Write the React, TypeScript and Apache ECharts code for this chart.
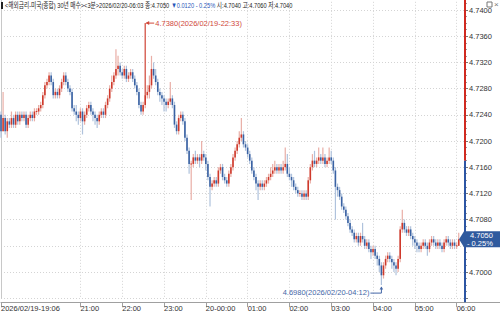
import React, { useEffect, useRef } from "react";
import * as echarts from "echarts";

// ---- data (3-minute bars, 2026/02/19 19:06 -> 2026/02/20 06:03) ----
const opens = [
  4.7240, 4.7215, 4.7235, 4.7215, 4.7230, 4.7225, 4.7235, 4.7225, 4.7240, 4.7230,
  4.7240, 4.7235, 4.7240, 4.7225, 4.7235, 4.7240, 4.7235, 4.7245, 4.7245, 4.7250,
  4.7255, 4.7270, 4.7285, 4.7290, 4.7300, 4.7290, 4.7270, 4.7275, 4.7270, 4.7280,
  4.7290, 4.7300, 4.7290, 4.7280, 4.7275, 4.7250, 4.7245, 4.7240, 4.7235, 4.7245,
  4.7230, 4.7240, 4.7250, 4.7255, 4.7245, 4.7240, 4.7235, 4.7230, 4.7240, 4.7245,
  4.7240, 4.7255, 4.7265, 4.7280, 4.7290, 4.7300, 4.7310, 4.7315, 4.7305, 4.7300,
  4.7310, 4.7295, 4.7300, 4.7305, 4.7295, 4.7285, 4.7275, 4.7255, 4.7245, 4.7255,
  4.7270, 4.7275, 4.7285, 4.7310, 4.7300, 4.7290, 4.7275, 4.7270, 4.7265, 4.7260,
  4.7255, 4.7260, 4.7265, 4.7255, 4.7225, 4.7215, 4.7235, 4.7240, 4.7230, 4.7205,
  4.7185, 4.7165, 4.7165, 4.7175, 4.7170, 4.7175, 4.7170, 4.7180, 4.7175, 4.7165,
  4.7145, 4.7130, 4.7135, 4.7140, 4.7135, 4.7155, 4.7160, 4.7145, 4.7140, 4.7135,
  4.7150, 4.7160, 4.7175, 4.7185, 4.7195, 4.7205, 4.7210, 4.7195, 4.7190, 4.7180,
  4.7170, 4.7155, 4.7145, 4.7135, 4.7130, 4.7135, 4.7130, 4.7135, 4.7140, 4.7145,
  4.7150, 4.7155, 4.7160, 4.7155, 4.7160, 4.7155, 4.7160, 4.7165, 4.7150, 4.7145,
  4.7140, 4.7130, 4.7125, 4.7120, 4.7120, 4.7115, 4.7120, 4.7115, 4.7140, 4.7160,
  4.7170, 4.7165, 4.7170, 4.7175, 4.7170, 4.7175, 4.7165, 4.7170, 4.7175, 4.7170,
  4.7155, 4.7130, 4.7125, 4.7115, 4.7100, 4.7095, 4.7085, 4.7075, 4.7065, 4.7060,
  4.7050, 4.7055, 4.7045, 4.7055, 4.7050, 4.7040, 4.7045, 4.7035, 4.7030, 4.7035,
  4.7025, 4.7020, 4.7010, 4.6995, 4.7010, 4.7020, 4.7025, 4.7020, 4.7015, 4.7010,
  4.7005, 4.7020, 4.7065, 4.7075, 4.7065, 4.7060, 4.7065, 4.7055, 4.7050, 4.7045,
  4.7040, 4.7035, 4.7040, 4.7045, 4.7040, 4.7035, 4.7045, 4.7050, 4.7045, 4.7040,
  4.7045, 4.7040, 4.7035, 4.7045, 4.7050, 4.7045, 4.7040, 4.7045, 4.7040, 4.7040,
];
const highs = [
  4.7245, 4.7275, 4.7240, 4.7235, 4.7235, 4.7245, 4.7240, 4.7245, 4.7245, 4.7245,
  4.7245, 4.7245, 4.7245, 4.7240, 4.7245, 4.7245, 4.7250, 4.7250, 4.7255, 4.7260,
  4.7275, 4.7290, 4.7295, 4.7305, 4.7305, 4.7295, 4.7280, 4.7280, 4.7285, 4.7295,
  4.7305, 4.7305, 4.7295, 4.7285, 4.7280, 4.7255, 4.7255, 4.7245, 4.7250, 4.7250,
  4.7245, 4.7255, 4.7260, 4.7260, 4.7250, 4.7245, 4.7240, 4.7245, 4.7250, 4.7250,
  4.7260, 4.7270, 4.7285, 4.7300, 4.7305, 4.7340, 4.7330, 4.7320, 4.7310, 4.7315,
  4.7315, 4.7305, 4.7310, 4.7310, 4.7300, 4.7290, 4.7280, 4.7260, 4.7260, 4.7380,
  4.7285, 4.7300, 4.7330, 4.7320, 4.7310, 4.7295, 4.7280, 4.7275, 4.7270, 4.7265,
  4.7265, 4.7290, 4.7270, 4.7260, 4.7230, 4.7240, 4.7245, 4.7245, 4.7235, 4.7210,
  4.7190, 4.7170, 4.7180, 4.7185, 4.7180, 4.7180, 4.7200, 4.7185, 4.7180, 4.7170,
  4.7150, 4.7140, 4.7145, 4.7145, 4.7160, 4.7165, 4.7165, 4.7150, 4.7145, 4.7155,
  4.7165, 4.7180, 4.7190, 4.7200, 4.7215, 4.7235, 4.7215, 4.7200, 4.7195, 4.7185,
  4.7175, 4.7160, 4.7150, 4.7140, 4.7140, 4.7140, 4.7140, 4.7145, 4.7150, 4.7160,
  4.7165, 4.7170, 4.7165, 4.7165, 4.7165, 4.7170, 4.7190, 4.7180, 4.7160, 4.7150,
  4.7145, 4.7135, 4.7130, 4.7125, 4.7125, 4.7125, 4.7125, 4.7145, 4.7165, 4.7180,
  4.7185, 4.7175, 4.7190, 4.7180, 4.7190, 4.7180, 4.7175, 4.7190, 4.7185, 4.7175,
  4.7160, 4.7135, 4.7130, 4.7120, 4.7105, 4.7100, 4.7090, 4.7080, 4.7070, 4.7065,
  4.7060, 4.7060, 4.7060, 4.7075, 4.7055, 4.7050, 4.7050, 4.7040, 4.7040, 4.7040,
  4.7030, 4.7025, 4.7015, 4.7015, 4.7025, 4.7030, 4.7030, 4.7025, 4.7020, 4.7015,
  4.7025, 4.7070, 4.7095, 4.7080, 4.7070, 4.7070, 4.7070, 4.7060, 4.7055, 4.7050,
  4.7045, 4.7045, 4.7050, 4.7050, 4.7045, 4.7050, 4.7055, 4.7055, 4.7050, 4.7050,
  4.7050, 4.7045, 4.7050, 4.7055, 4.7055, 4.7050, 4.7050, 4.7050, 4.7045, 4.7060,
];
const lows = [
  4.7205, 4.7215, 4.7210, 4.7205, 4.7220, 4.7220, 4.7220, 4.7220, 4.7225, 4.7225,
  4.7230, 4.7230, 4.7220, 4.7220, 4.7230, 4.7230, 4.7230, 4.7240, 4.7240, 4.7245,
  4.7250, 4.7265, 4.7280, 4.7285, 4.7285, 4.7265, 4.7265, 4.7265, 4.7265, 4.7275,
  4.7285, 4.7285, 4.7275, 4.7270, 4.7245, 4.7240, 4.7230, 4.7225, 4.7230, 4.7210,
  4.7225, 4.7235, 4.7245, 4.7240, 4.7230, 4.7225, 4.7220, 4.7225, 4.7235, 4.7235,
  4.7235, 4.7250, 4.7260, 4.7275, 4.7285, 4.7295, 4.7300, 4.7300, 4.7295, 4.7295,
  4.7290, 4.7290, 4.7295, 4.7290, 4.7280, 4.7270, 4.7250, 4.7240, 4.7240, 4.7250,
  4.7265, 4.7265, 4.7280, 4.7295, 4.7285, 4.7270, 4.7260, 4.7255, 4.7245, 4.7245,
  4.7250, 4.7255, 4.7250, 4.7220, 4.7210, 4.7210, 4.7230, 4.7225, 4.7200, 4.7180,
  4.7150, 4.7110, 4.7160, 4.7165, 4.7165, 4.7160, 4.7165, 4.7170, 4.7155, 4.7140,
  4.7100, 4.7125, 4.7130, 4.7130, 4.7130, 4.7150, 4.7140, 4.7135, 4.7130, 4.7130,
  4.7145, 4.7155, 4.7170, 4.7180, 4.7190, 4.7200, 4.7190, 4.7185, 4.7175, 4.7165,
  4.7150, 4.7140, 4.7125, 4.7110, 4.7125, 4.7125, 4.7125, 4.7130, 4.7135, 4.7140,
  4.7145, 4.7150, 4.7150, 4.7150, 4.7150, 4.7150, 4.7155, 4.7145, 4.7140, 4.7130,
  4.7125, 4.7120, 4.7115, 4.7115, 4.7110, 4.7110, 4.7110, 4.7110, 4.7135, 4.7155,
  4.7160, 4.7160, 4.7165, 4.7165, 4.7165, 4.7160, 4.7160, 4.7165, 4.7165, 4.7150,
  4.7080, 4.7115, 4.7110, 4.7095, 4.7090, 4.7080, 4.7070, 4.7060, 4.7055, 4.7045,
  4.7045, 4.7040, 4.7040, 4.7045, 4.7035, 4.7035, 4.7030, 4.7020, 4.7025, 4.7020,
  4.7010, 4.7000, 4.6980, 4.6990, 4.7005, 4.7015, 4.7015, 4.7005, 4.7000, 4.6995,
  4.7000, 4.7015, 4.7060, 4.7060, 4.7055, 4.7055, 4.7050, 4.7040, 4.7035, 4.7030,
  4.7030, 4.7030, 4.7035, 4.7035, 4.7025, 4.7030, 4.7040, 4.7040, 4.7035, 4.7035,
  4.7035, 4.7030, 4.7030, 4.7040, 4.7040, 4.7035, 4.7035, 4.7035, 4.7035, 4.7040,
];
const closes = [
  4.7215, 4.7235, 4.7215, 4.7230, 4.7225, 4.7235, 4.7225, 4.7240, 4.7230, 4.7240,
  4.7235, 4.7240, 4.7225, 4.7235, 4.7240, 4.7235, 4.7245, 4.7245, 4.7250, 4.7255,
  4.7270, 4.7285, 4.7290, 4.7300, 4.7290, 4.7270, 4.7275, 4.7270, 4.7280, 4.7290,
  4.7300, 4.7290, 4.7280, 4.7275, 4.7250, 4.7245, 4.7240, 4.7235, 4.7245, 4.7230,
  4.7240, 4.7250, 4.7255, 4.7245, 4.7240, 4.7235, 4.7230, 4.7240, 4.7245, 4.7240,
  4.7255, 4.7265, 4.7280, 4.7290, 4.7300, 4.7310, 4.7315, 4.7305, 4.7300, 4.7310,
  4.7295, 4.7300, 4.7305, 4.7295, 4.7285, 4.7275, 4.7255, 4.7245, 4.7255, 4.7270,
  4.7275, 4.7285, 4.7310, 4.7300, 4.7290, 4.7275, 4.7270, 4.7265, 4.7260, 4.7255,
  4.7260, 4.7265, 4.7255, 4.7225, 4.7215, 4.7235, 4.7240, 4.7230, 4.7205, 4.7185,
  4.7165, 4.7165, 4.7175, 4.7170, 4.7175, 4.7170, 4.7180, 4.7175, 4.7165, 4.7145,
  4.7130, 4.7135, 4.7140, 4.7135, 4.7155, 4.7160, 4.7145, 4.7140, 4.7135, 4.7150,
  4.7160, 4.7175, 4.7185, 4.7195, 4.7205, 4.7210, 4.7195, 4.7190, 4.7180, 4.7170,
  4.7155, 4.7145, 4.7135, 4.7130, 4.7135, 4.7130, 4.7135, 4.7140, 4.7145, 4.7150,
  4.7155, 4.7160, 4.7155, 4.7160, 4.7155, 4.7160, 4.7165, 4.7150, 4.7145, 4.7140,
  4.7130, 4.7125, 4.7120, 4.7120, 4.7115, 4.7120, 4.7115, 4.7140, 4.7160, 4.7170,
  4.7165, 4.7170, 4.7175, 4.7170, 4.7175, 4.7165, 4.7170, 4.7175, 4.7170, 4.7155,
  4.7130, 4.7125, 4.7115, 4.7100, 4.7095, 4.7085, 4.7075, 4.7065, 4.7060, 4.7050,
  4.7055, 4.7045, 4.7055, 4.7050, 4.7040, 4.7045, 4.7035, 4.7030, 4.7035, 4.7025,
  4.7020, 4.7010, 4.6995, 4.7010, 4.7020, 4.7025, 4.7020, 4.7015, 4.7010, 4.7005,
  4.7020, 4.7065, 4.7075, 4.7065, 4.7060, 4.7065, 4.7055, 4.7050, 4.7045, 4.7040,
  4.7035, 4.7040, 4.7045, 4.7040, 4.7035, 4.7045, 4.7050, 4.7045, 4.7040, 4.7045,
  4.7040, 4.7035, 4.7045, 4.7050, 4.7045, 4.7040, 4.7045, 4.7040, 4.7040, 4.7050,
];
const prevClose = 4.7170;
const changeText = "- 0.25%";
const tickIndex = [0, 38, 58, 78, 98, 118, 138, 158, 178, 198, 218];
const tickLabels = [
  "2026/02/19-19:06", "21:00", "22:00", "23:00", "20-00:00", "01:00",
  "02:00", "03:00", "04:00", "05:00", "06:00",
];
const titleMain = "<해외금리-미국(종합) 30년 매수><3분>2026/02/20-06:03 종:4.7050 ";
const titleChange = "▼0.0120 - 0.25%";
const titleRest = " 시:4.7040 고:4.7060 저:4.7040";
const yMin = 4.696;
const yMax = 4.744;
const yStep = 0.004;
const startDay = 19;
const startMinutes = 19 * 60 + 6;
const barMinutes = 3;
const padBars = 3;

const RED = "#cf3a2c";
const RED_LIGHT = "#e9aea6";
const BLUE = "#3a62a3";
const BLUE_LIGHT = "#afc2dc";
const RED_ANN = "#d0483a";
const BLUE_ANN = "#4466a6";
const AXIS_RED = "#d02a20";
const AXIS_BLUE = "#2c55a3";
const TAG_BLUE = "#2f5a9e";
const FONT = "'Liberation Sans', Arial, sans-serif";
const CJK = "'Liberation Sans', 'Noto Sans CJK KR', sans-serif";

const pad2 = (n: number) => (n < 10 ? "0" + n : String(n));
const stamps: string[] = [];
for (let i = 0; i < closes.length + padBars; i++) {
  const m = startMinutes + i * barMinutes;
  const day = startDay + Math.floor(m / 1440);
  const mm = m % 1440;
  stamps.push(`2026/02/${pad2(day)}-${pad2(Math.floor(mm / 60))}:${pad2(mm % 60)}`);
}

export default function App() {
  const ref = useRef<HTMLDivElement>(null);
  useEffect(() => {
    document.body.style.margin = "0";
    if (!ref.current) return;
    const chart = echarts.init(ref.current, null, { renderer: "svg" });

    const dirs = closes.map((c, i) => {
      const o = opens[i];
      if (c > o) return 1;
      if (c < o) return -1;
      const p = i > 0 ? closes[i - 1] : o;
      return c >= p ? 1 : -1;
    });
    let maxIdx = 0;
    let minIdx = 0;
    highs.forEach((h, i) => { if (h > highs[maxIdx]) maxIdx = i; });
    lows.forEach((l, i) => { if (l < lows[minIdx]) minIdx = i; });
    const lastIdx = closes.length - 1;
    const lastClose = closes[lastIdx];

    const barData = closes.map((c, i) => [i, opens[i], c, lows[i], highs[i], dirs[i]]);

    const option: any = {
      animation: false,
      backgroundColor: "#ffffff",
      grid: {
        left: 1, right: 35, top: -16.2, bottom: 15.8,
        containLabel: false, outerBoundsMode: "none",
      },
      xAxis: {
        type: "category",
        data: stamps,
        boundaryGap: false,
        offset: 4,
        axisLine: { show: true, lineStyle: { color: "#a0a0a0", width: 1 } },
        axisTick: {
          show: true, length: 5,
          interval: (idx: number) => tickIndex.includes(idx),
          lineStyle: { color: "#a0a0a0" },
        },
        axisLabel: {
          interval: (idx: number) => tickIndex.includes(idx),
          formatter: (_v: string, idx: number) => tickLabels[tickIndex.indexOf(idx)] ?? "",
          align: "left",
          margin: 2,
          fontSize: 7.5,
          fontFamily: FONT,
          color: "#333",
        },
        splitLine: {
          show: true,
          interval: (idx: number) => idx !== 0 && tickIndex.includes(idx),
          lineStyle: { color: "#d4d4d4", type: [1, 2], width: 1 },
        },
      },
      yAxis: [
        {
          type: "value",
          position: "right",
          min: yMin, max: yMax, interval: yStep,
          axisLine: { show: false },
          axisTick: { show: true, length: 3, lineStyle: { color: "#777" } },
          minorTick: { show: true, splitNumber: 4, length: 2, lineStyle: { color: "#999" } },
          axisLabel: {
            showMinLabel: false, showMaxLabel: false,
            margin: 4, fontSize: 7.5, fontFamily: FONT, color: "#333",
            // the last-price tag covers the label nearest to it
            formatter: (v: number) => (Math.abs(v - lastClose) < yStep / 2 ? "" : v.toFixed(4)),
          },
          splitLine: { show: true, lineStyle: { color: "#d4d4d4", type: [1, 2], width: 1 } },
        },
        {
          type: "value",
          position: "left",
          min: yMin, max: yMax,
          axisLine: { show: true, lineStyle: { color: "#c8c8c8", width: 1 } },
          axisTick: { show: false },
          axisLabel: { show: false },
          splitLine: { show: false },
        },
      ],
      series: [
        {
          type: "custom",
          z: 3,
          data: barData,
          encode: { x: 0, y: [1, 2, 3, 4] },
          renderItem: (params: any, api: any) => {
            const i = api.value(0) as number;
            const o = api.value(1) as number;
            const c = api.value(2) as number;
            const l = api.value(3) as number;
            const h = api.value(4) as number;
            const d = api.value(5) as number;
            const po = api.coord([i, o]);
            const x = po[0];
            const yo = po[1];
            const yc = api.coord([i, c])[1];
            const yl = api.coord([i, l])[1];
            const yh = api.coord([i, h])[1];
            const up = d > 0;
            const top = Math.min(yo, yc);
            const bh = Math.abs(yo - yc);
            const children: any[] = [
              {
                type: "rect",
                shape: { x: x - 0.6, y: yh, width: 1.2, height: Math.max(1, yl - yh) },
                style: { fill: up ? RED_LIGHT : BLUE_LIGHT },
              },
              {
                type: "rect",
                shape: { x: x - 0.8, y: bh < 1 ? top - 0.5 : top, width: 1.6, height: Math.max(1, bh) },
                style: { fill: up ? RED : BLUE },
              },
            ];
            if (i === maxIdx) {
              children.push(
                { type: "line", shape: { x1: x, y1: yh, x2: x, y2: top }, style: { stroke: RED_ANN, lineWidth: 1 } },
                { type: "line", shape: { x1: x + 1, y1: yh, x2: x + 9, y2: yh }, style: { stroke: RED_ANN, lineWidth: 1 } },
                { type: "polygon", shape: { points: [[x + 0.5, yh], [x + 4, yh - 2], [x + 4, yh + 2]] }, style: { fill: RED_ANN } },
                {
                  type: "text", x: x + 10, y: yh,
                  style: {
                    text: `${h.toFixed(4)}(${stamps[i]})`, fill: RED_ANN, fontSize: 7.5, fontFamily: FONT,
                    align: "left", textAlign: "left", verticalAlign: "middle", textVerticalAlign: "middle",
                  },
                }
              );
            }
            if (i === minIdx) {
              const yb = yl + 8;
              children.push(
                { type: "line", shape: { x1: x - 11, y1: yb, x2: x, y2: yb }, style: { stroke: BLUE_ANN, lineWidth: 1 } },
                { type: "line", shape: { x1: x, y1: yb, x2: x, y2: yl + 2 }, style: { stroke: BLUE_ANN, lineWidth: 1 } },
                { type: "polygon", shape: { points: [[x, yl + 1.5], [x - 1.8, yl + 4.5], [x + 1.8, yl + 4.5]] }, style: { fill: BLUE_ANN } },
                {
                  type: "text", x: x - 12, y: yb - 0.5,
                  style: {
                    text: `${l.toFixed(4)}(${stamps[i]})`, fill: BLUE_ANN, fontSize: 7.5, fontFamily: FONT,
                    align: "right", textAlign: "right", verticalAlign: "middle", textVerticalAlign: "middle",
                  },
                }
              );
            }
            return { type: "group", children };
          },
        },
        {
          type: "custom",
          z: 10,
          data: [[lastIdx, lastClose, prevClose]],
          encode: { x: 0, y: [1, 2] },
          renderItem: (params: any, api: any) => {
            const cs = params.coordSys;
            const xr = cs.x + cs.width;
            const yRef = api.coord([0, api.value(2)])[1];
            const yLast = api.coord([api.value(0), api.value(1)])[1];
            const W = api.getWidth();
            return {
              type: "group",
              children: [
                { type: "line", shape: { x1: xr, y1: 0, x2: xr, y2: yRef }, style: { stroke: AXIS_RED, lineWidth: 2 } },
                { type: "line", shape: { x1: xr, y1: yRef, x2: xr, y2: cs.y + cs.height + 4 }, style: { stroke: AXIS_BLUE, lineWidth: 2 } },
                {
                  type: "polygon",
                  shape: { points: [[xr - 6, yLast], [xr - 1, yLast - 8], [W, yLast - 8], [W, yLast + 8], [xr - 1, yLast + 8]] },
                  style: { fill: TAG_BLUE },
                },
                {
                  type: "text", x: xr + 5, y: yLast - 3.6,
                  style: {
                    text: (api.value(1) as number).toFixed(4), fill: "#fff", fontSize: 7.5, fontFamily: FONT,
                    align: "left", textAlign: "left", verticalAlign: "middle", textVerticalAlign: "middle",
                  },
                },
                {
                  type: "text", x: xr + 2, y: yLast + 3.8,
                  style: {
                    text: changeText, fill: "#fff", fontSize: 7.5, fontFamily: FONT,
                    align: "left", textAlign: "left", verticalAlign: "middle", textVerticalAlign: "middle",
                  },
                },
              ],
            };
          },
        },
      ],
      graphic: [
        { type: "rect", x: 1, y: 2, shape: { width: 2, height: 7 }, style: { fill: "#222" }, z: 20 },
        {
          type: "text", x: 5, y: 1, scaleX: 0.71, z: 20,
          style: {
            text: `{a|${titleMain}}{b|${titleChange}}{a|${titleRest}}`,
            rich: {
              a: { fill: "#222", color: "#222", fontSize: 8, fontFamily: CJK },
              b: { fill: "#2756b8", color: "#2756b8", fontSize: 8, fontFamily: CJK },
            },
            fontSize: 8, fontFamily: CJK,
          },
        },
        { type: "rect", x: 487, y: 2, shape: { width: 5, height: 5 }, style: { fill: "#fff", stroke: "#777", lineWidth: 1 }, z: 20 },
        {
          type: "text", x: 494, y: 0, z: 20,
          style: { text: "×", fill: "#777", fontSize: 8, fontFamily: FONT },
        },
        {
          type: "line", x: 0, y: 0, z: 1,
          shape: { x1: 465, y1: 302.5, x2: 500, y2: 302.5 },
          style: { stroke: "#a0a0a0", lineWidth: 1 },
        },
      ],
    };
    chart.setOption(option);
    return () => chart.dispose();
  }, []);
  return <div ref={ref} style={{ width: 500, height: 314 }} />;
}
